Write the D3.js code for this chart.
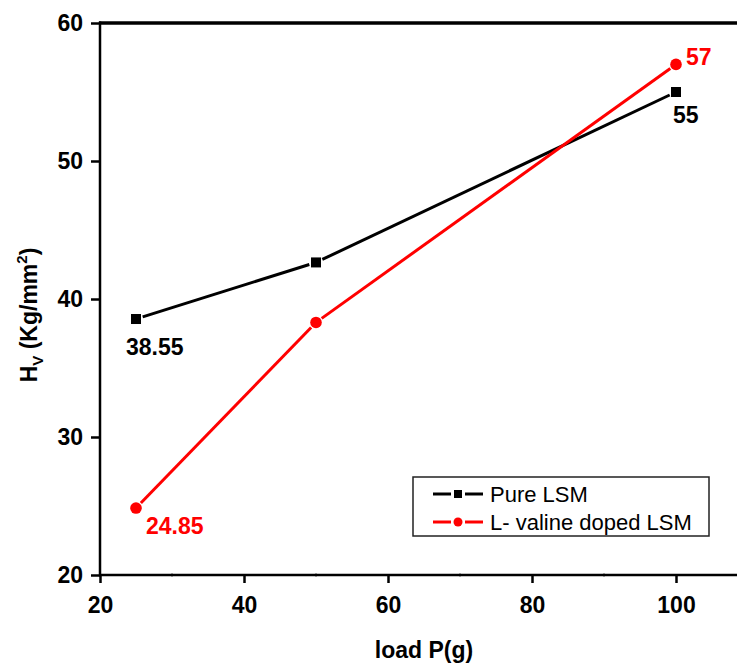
<!DOCTYPE html>
<html><head><meta charset="utf-8">
<script src="https://cdn.jsdelivr.net/npm/d3@7"></script>
<style>
body{margin:0;background:#fff}
text{font-family:"Liberation Sans",Arial,sans-serif}
</style>
</head><body>
<svg id="c" width="737" height="664"></svg>
<script>
// ---- data ----
const loads = [25, 50, 100];
const pureLSM = [38.55, 42.65, 55];
const dopedLSM = [24.85, 38.3, 57];
const seriesNames = ["Pure LSM", "L- valine doped LSM"];
const seriesColors = ["#000000", "#ff0000"];
const xTicks = [20, 40, 60, 80, 100];
const xMinorTicks = [30, 50, 70, 90];
const yTicks = [20, 30, 40, 50, 60];
const xTitle = "load P(g)";
const pointLabels = [
  {series: 0, index: 0, text: "38.55"},
  {series: 0, index: 2, text: "55"},
  {series: 1, index: 0, text: "24.85"},
  {series: 1, index: 2, text: "57"}
];

const svg = d3.select("#c");
const x = d3.scaleLinear().domain([20, 100]).range([100, 676]);
const y = d3.scaleLinear().domain([20, 60]).range([575, 23]);
const W = 737;

// axes
const gx = svg.append("g").attr("transform", "translate(0,575)")
  .call(d3.axisBottom(x).tickValues(xTicks).tickSize(8).tickSizeOuter(0).tickPadding(14).tickFormat(d3.format("d")));
gx.select(".domain").remove();
gx.selectAll(".tick line").attr("stroke", "#000").attr("stroke-width", 2.5);
gx.selectAll(".tick text").attr("font-size", 23).attr("font-weight", "bold").attr("fill", "#000");

svg.append("g").selectAll("line").data(xMinorTicks).join("line")
  .attr("x1", d => x(d)).attr("x2", d => x(d)).attr("y1", 573).attr("y2", 577)
  .attr("stroke", "#555").attr("stroke-width", 0.8);

const gy = svg.append("g").attr("transform", "translate(100,0)")
  .call(d3.axisLeft(y).tickValues(yTicks).tickSize(9).tickSizeOuter(0).tickPadding(8).tickFormat(d3.format("d")));
gy.select(".domain").remove();
gy.selectAll(".tick line").attr("stroke", "#000").attr("stroke-width", 2.5);
gy.selectAll(".tick text").attr("font-size", 23).attr("font-weight", "bold").attr("fill", "#000");

// frame lines
svg.append("line").attr("x1", 100).attr("x2", 100).attr("y1", y(60) - 1.5).attr("y2", y(20) + 1.2)
  .attr("stroke", "#000").attr("stroke-width", 2.5);
svg.append("line").attr("x1", 99).attr("x2", W).attr("y1", y(20)).attr("y2", y(20))
  .attr("stroke", "#000").attr("stroke-width", 2.5);
svg.append("line").attr("x1", 99).attr("x2", W).attr("y1", y(60)).attr("y2", y(60))
  .attr("stroke", "#000").attr("stroke-width", 3.5);

// series
const series = [pureLSM, dopedLSM];
const gap = 7;
series.forEach((vals, si) => {
  const pts = loads.map((l, i) => [x(l), y(vals[i])]);
  const g = svg.append("g");
  for (let i = 0; i < pts.length - 1; i++) {
    const [x1, y1] = pts[i], [x2, y2] = pts[i + 1];
    const L = Math.hypot(x2 - x1, y2 - y1), ux = (x2 - x1) / L, uy = (y2 - y1) / L;
    g.append("line")
      .attr("x1", x1 + ux * gap).attr("y1", y1 + uy * gap)
      .attr("x2", x2 - ux * gap).attr("y2", y2 - uy * gap)
      .attr("stroke", seriesColors[si]).attr("stroke-width", 3);
  }
  if (si === 0) {
    g.selectAll("rect").data(pts).join("rect")
      .attr("x", d => d[0] - 5).attr("y", d => d[1] - 5).attr("width", 10).attr("height", 10)
      .attr("fill", seriesColors[si]);
  } else {
    g.selectAll("circle").data(pts).join("circle")
      .attr("cx", d => d[0]).attr("cy", d => d[1]).attr("r", 5.8)
      .attr("fill", seriesColors[si]);
  }
});

// point labels
const labelOffsets = {"0-0": [-10, 36], "0-2": [-3, 31], "1-0": [10, 26], "1-2": [10, 1]};
pointLabels.forEach(p => {
  const vals = series[p.series];
  const off = labelOffsets[p.series + "-" + p.index];
  svg.append("text")
    .attr("x", x(loads[p.index]) + off[0]).attr("y", y(vals[p.index]) + off[1])
    .attr("font-size", 23).attr("font-weight", "bold")
    .attr("fill", seriesColors[p.series]).text(p.text);
});

// axis titles
svg.append("text").attr("x", 424).attr("y", 658).attr("text-anchor", "middle")
  .attr("font-size", 23).attr("font-weight", "bold").text(xTitle);

const yt = svg.append("text").attr("transform", "translate(37,315) rotate(-90)")
  .attr("text-anchor", "middle").attr("font-size", 23).attr("font-weight", "bold");
yt.append("tspan").text("H");
yt.append("tspan").attr("font-size", 15).attr("dy", 6).text("V");
yt.append("tspan").attr("dy", -6).text(" (Kg/mm");
yt.append("tspan").attr("font-size", 15).attr("dy", -10).text("2");
yt.append("tspan").attr("dy", 10).text(")");

// legend
const lg = svg.append("g");
lg.append("rect").attr("x", 413).attr("y", 477).attr("width", 296).attr("height", 59)
  .attr("fill", "#fff").attr("stroke", "#222").attr("stroke-width", 1.5);
seriesNames.forEach((name, i) => {
  const cy = 494 + i * 28;
  lg.append("line").attr("x1", 433).attr("x2", 451).attr("y1", cy).attr("y2", cy)
    .attr("stroke", seriesColors[i]).attr("stroke-width", 3);
  lg.append("line").attr("x1", 465).attr("x2", 483).attr("y1", cy).attr("y2", cy)
    .attr("stroke", seriesColors[i]).attr("stroke-width", 3);
  if (i === 0) lg.append("rect").attr("x", 454).attr("y", cy - 4).attr("width", 8).attr("height", 8).attr("fill", seriesColors[i]);
  else lg.append("circle").attr("cx", 458).attr("cy", cy).attr("r", 4.5).attr("fill", seriesColors[i]);
  lg.append("text").attr("x", 490).attr("y", cy + 8).attr("font-size", 22).attr("fill", "#000").text(name);
});
</script>
</body></html>
